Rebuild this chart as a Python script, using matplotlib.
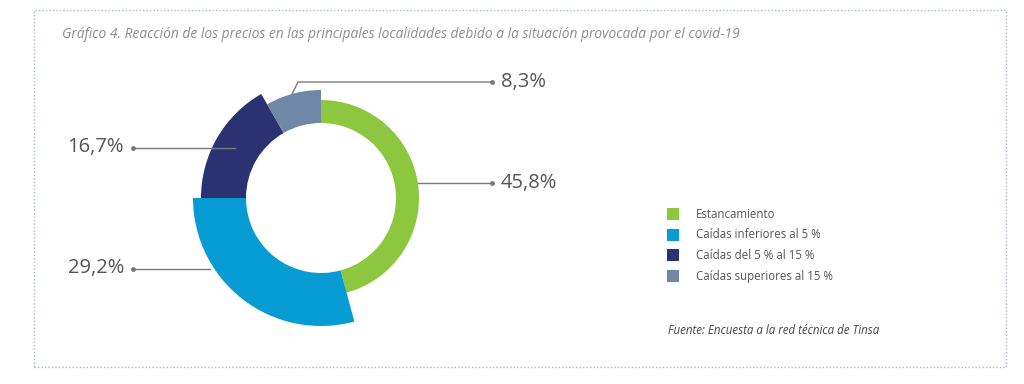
import matplotlib
matplotlib.use("Agg")
import matplotlib.pyplot as plt
from matplotlib.patches import Wedge, Rectangle
import numpy as np

# data
categories = ["Estancamiento", "Caídas inferiores al 5 %",
              "Caídas del 5 % al 15 %", "Caídas superiores al 15 %"]
shares = [45.8, 29.2, 16.7, 8.3]
labels = ["45,8%", "29,2%", "16,7%", "8,3%"]
colors = ["#8dc63f", "#069bd2", "#2b3272", "#7088a5"]
outer_r = [98, 128, 120, 108]   # each ring piece has its own thickness
inner_r = 75

W, H = 1024, 384
fig = plt.figure(figsize=(W / 100, H / 100), dpi=100)
ax = fig.add_axes([0, 0, 1, 1])
ax.set_xlim(0, W)
ax.set_ylim(0, H)
ax.set_aspect("equal")
ax.axis("off")

def Y(y):
    # image row -> data y
    return H - y

cx, cy = 321, Y(198)

# wedges clockwise from 12 o'clock
total = sum(shares)
start = 90.0
for s, c, ro in zip(shares, colors, outer_r):
    span = 360.0 * s / total
    ax.add_patch(Wedge((cx, cy), ro, start - span, start, width=ro - inner_r,
                       facecolor=c, edgecolor="none"))
    start -= span

# leader lines
lc = "#7a7a7a"
ax.plot([292, 298, 492], [Y(94), Y(82), Y(82)], color=lc, lw=1)
ax.plot([418, 492], [Y(183), Y(183)], color=lc, lw=1)
ax.plot([133, 235], [Y(148), Y(148)], color=lc, lw=1)
ax.plot([133, 210], [Y(269), Y(269)], color=lc, lw=1)
for x, y in [(492, 82), (492, 183), (133, 148), (133, 269)]:
    ax.plot(x, Y(y), "o", color=lc, ms=2.5)

tc = "#555555"
lab_fs = 14.5
ax.text(501, Y(82), labels[3], fontsize=lab_fs, color=tc, va="center", ha="left", family="Open Sans")
ax.text(501, Y(183), labels[0], fontsize=lab_fs, color=tc, va="center", ha="left", family="Open Sans")
ax.text(124, Y(147), labels[2], fontsize=lab_fs, color=tc, va="center", ha="right", family="Open Sans")
ax.text(124, Y(268), labels[1], fontsize=lab_fs, color=tc, va="center", ha="right", family="Open Sans")

# title
ax.text(62, Y(35), "Gráfico 4. Reacción de los precios en las principales localidades debido a la situación provocada por el covid-19",
        fontsize=9.9, style="italic", color="#8c8c8c", va="center", ha="left", family="Open Sans")

# legend
for i, (cat, c) in enumerate(zip(categories, colors)):
    yy = 214 + i * 20.7
    ax.add_patch(Rectangle((667, Y(yy) - 6), 12, 12, facecolor=c, edgecolor="none"))
    ax.text(696, Y(yy), cat, fontsize=8.3, color=tc, va="center", ha="left", family="Open Sans")

ax.text(668, Y(330), "Fuente: Encuesta a la red técnica de Tinsa", fontsize=8.3, style="italic",
        color="#444444", va="center", ha="left", family="Open Sans")

# dotted frame
ax.add_patch(Rectangle((34, Y(367)), 1006 - 34, 367 - 10, facecolor="none",
                       edgecolor="#a9b8c6", lw=1, linestyle=(0, (1, 1.5))))

fig.savefig("out.png", dpi=100, facecolor="white")
